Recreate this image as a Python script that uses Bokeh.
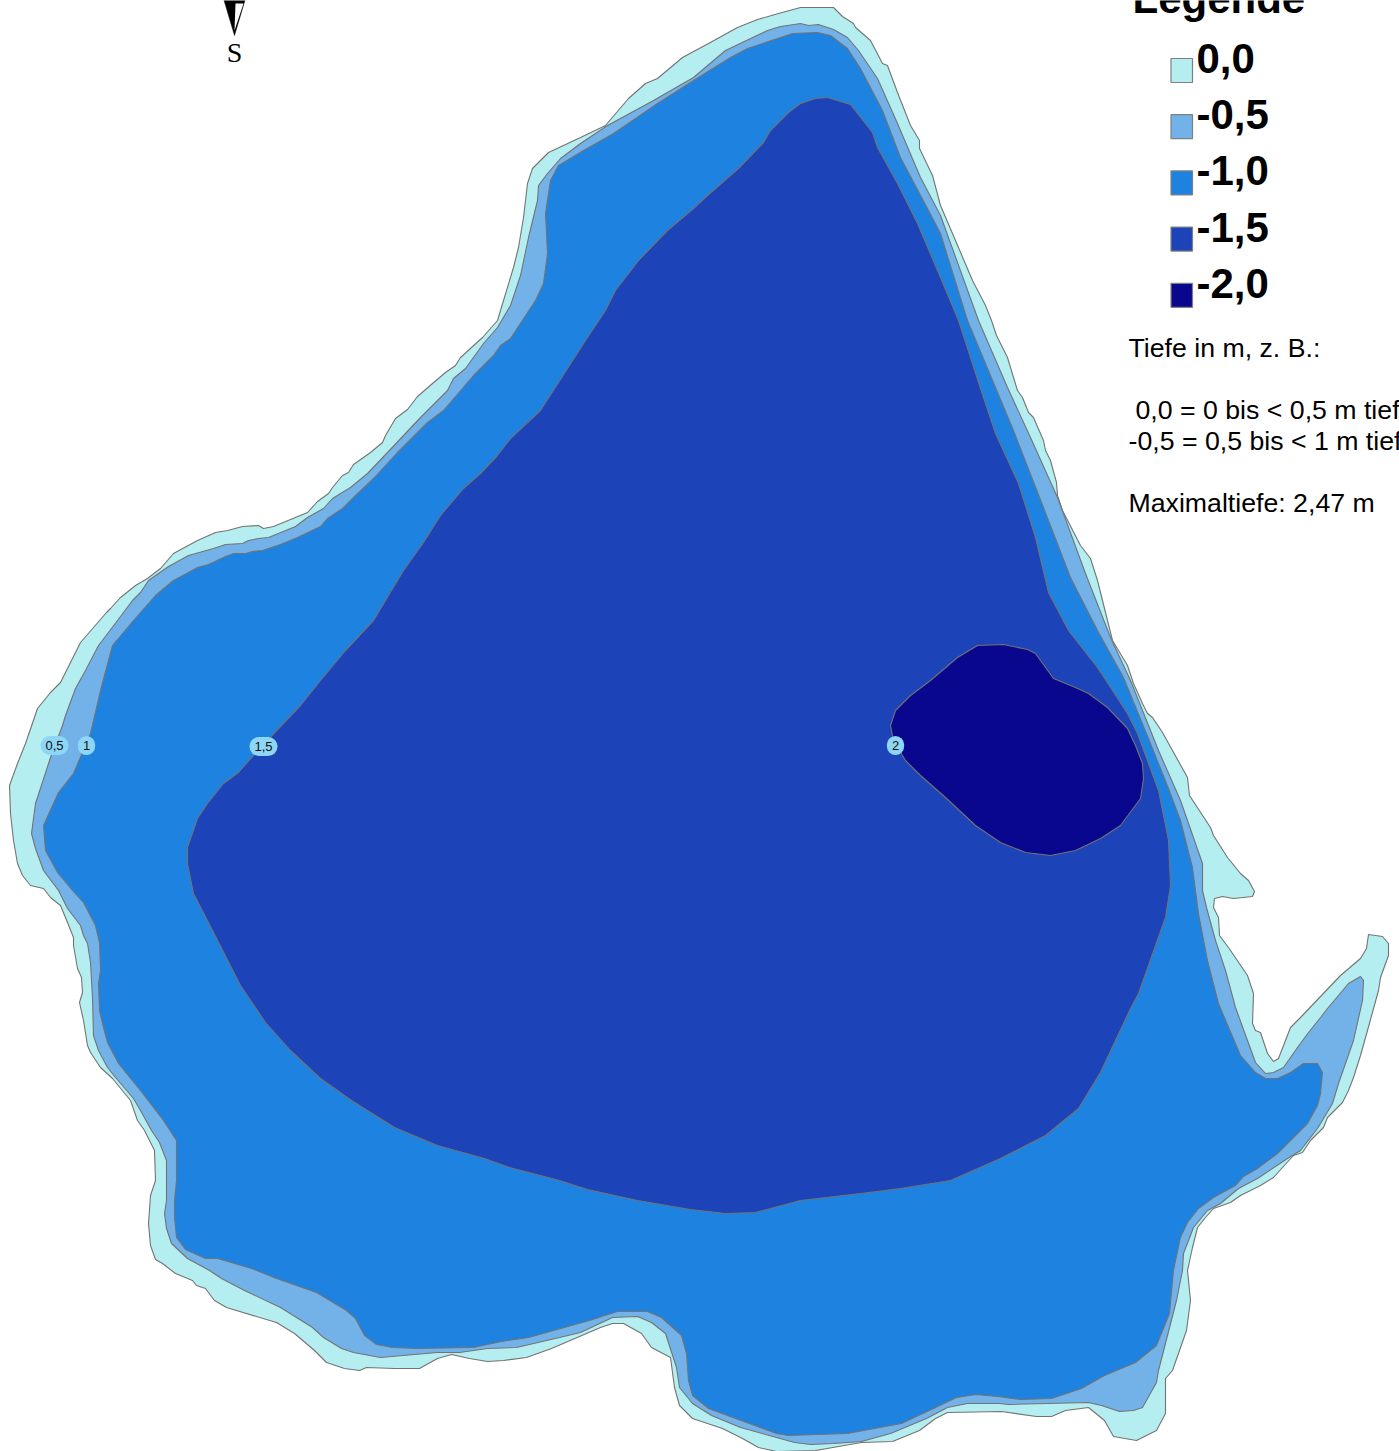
from bokeh.plotting import figure
from bokeh.models import Range1d, Label
from bokeh.core.properties import value
from bokeh.embed import file_html
from bokeh.resources import INLINE

depth_0_0 = [(800,7),(833,7),(842,16),(853,23),(855,27),(870,40),(882,63),(887,65),(897,92),(910,125),(919,140),(919,148),(932,175),(940,205),(955,240),(972,280),(985,305),(991,320),(996,335),(1007,357),(1017,390),(1022,397),(1028,412),(1033,417),(1043,440),(1045,450),(1050,460),(1056,482),(1057,495),(1062,510),(1080,545),(1090,558),(1097,580),(1110,632),(1112,640),(1127,665),(1133,683),(1142,703),(1147,713),(1152,717),(1162,732),(1172,750),(1187,777),(1189,795),(1210,827),(1213,835),(1227,857),(1240,873),(1248,880),(1254,891),(1252,896),(1233,898),(1222,896),(1214,898),(1213,907),(1218,917),(1219,935),(1228,947),(1247,975),(1253,993),(1252,1023),(1255,1030),(1260,1032),(1267,1053),(1273,1061),(1278,1058),(1290,1027),(1300,1017),(1340,975),(1360,958),(1366,948),(1368,934),(1382,936),(1388,943),(1388,955),(1380,977),(1378,990),(1367,1030),(1360,1055),(1353,1077),(1348,1090),(1342,1102),(1327,1117),(1323,1127),(1310,1140),(1302,1152),(1293,1155),(1282,1167),(1273,1177),(1260,1185),(1240,1195),(1230,1202),(1213,1208),(1205,1217),(1197,1227),(1192,1247),(1187,1270),(1190,1300),(1186,1330),(1172,1370),(1165,1378),(1165,1413),(1156,1430),(1136,1440),(1113,1436),(1104,1420),(1088,1407),(1065,1410),(1051,1416),(1036,1416),(1001,1411),(947,1412),(935,1418),(919,1430),(892,1441),(861,1442),(815,1450),(776,1451),(758,1447),(742,1438),(722,1428),(692,1418),(679,1405),(674,1387),(670,1357),(651,1347),(641,1333),(623,1323),(612,1323),(600,1327),(551,1348),(526,1357),(503,1360),(487,1361),(469,1358),(451,1354),(437,1358),(419,1368),(394,1368),(366,1367),(359,1370),(344,1368),(326,1362),(314,1350),(294,1333),(276,1322),(226,1307),(214,1300),(205,1288),(196,1285),(192,1280),(175,1273),(162,1263),(155,1259),(150,1245),(148,1223),(150,1195),(155,1180),(154,1150),(144,1130),(137,1120),(130,1100),(112,1078),(100,1067),(90,1052),(87,1045),(83,1020),(79,1002),(82,992),(81,977),(77,968),(73,945),(73,937),(67,922),(60,905),(50,897),(43,888),(30,885),(22,875),(17,863),(13,840),(10,813),(9,785),(17,763),(25,743),(37,708),(50,692),(60,682),(80,642),(106,612),(110,608),(120,597),(135,585),(147,578),(160,568),(173,553),(197,540),(215,532),(227,530),(242,526),(258,525),(263,528),(273,526),(290,519),(307,512),(317,501),(328,493),(332,487),(342,475),(348,472),(353,464),(370,452),(382,442),(385,435),(395,418),(407,409),(417,396),(432,383),(445,372),(455,365),(460,357),(482,337),(497,320),(500,310),(513,267),(518,247),(523,217),(525,200),(527,183),(532,168),(548,152),(580,137),(605,125),(628,98),(645,83),(657,78),(682,57),(708,43),(737,27),(757,19),(778,13)]

depth_0_5 = [(800,23),(808,25),(818,24),(833,29),(847,37),(858,50),(877,78),(897,123),(920,177),(940,215),(978,320),(1007,387),(1030,437),(1057,497),(1085,573),(1110,637),(1130,680),(1158,750),(1180,800),(1195,843),(1202,863),(1202,890),(1206,907),(1215,940),(1225,970),(1235,1007),(1247,1040),(1255,1062),(1265,1073),(1273,1072),(1283,1067),(1297,1047),(1308,1032),(1320,1017),(1327,1008),(1348,983),(1360,976),(1363,980),(1362,1000),(1353,1040),(1338,1083),(1332,1103),(1317,1128),(1300,1150),(1287,1158),(1257,1178),(1238,1188),(1220,1203),(1207,1210),(1193,1227),(1183,1253),(1182,1270),(1176,1300),(1158,1370),(1156,1382),(1142,1407),(1133,1410),(1119,1411),(1101,1405),(1088,1402),(1008,1404),(999,1403),(967,1403),(947,1407),(926,1418),(890,1433),(861,1441),(833,1443),(810,1444),(794,1442),(740,1427),(711,1415),(692,1403),(679,1387),(676,1367),(665,1333),(651,1322),(637,1316),(612,1317),(580,1332),(559,1337),(516,1347),(487,1348),(459,1352),(437,1352),(414,1354),(380,1357),(353,1352),(341,1348),(323,1337),(312,1327),(280,1307),(244,1290),(221,1278),(209,1270),(187,1258),(171,1243),(166,1228),(164,1213),(166,1200),(166,1160),(159,1142),(151,1130),(140,1110),(133,1098),(115,1077),(107,1067),(98,1050),(93,1035),(92,997),(90,962),(87,943),(83,935),(80,925),(67,908),(58,890),(43,870),(35,848),(31,833),(33,818),(35,803),(50,757),(62,725),(65,715),(75,688),(85,670),(98,645),(117,620),(132,600),(140,592),(148,580),(168,566),(188,555),(213,548),(225,544),(242,543),(248,540),(258,538),(268,537),(295,526),(307,517),(323,508),(332,498),(350,487),(367,473),(387,452),(420,417),(430,407),(447,390),(453,378),(465,368),(483,343),(497,327),(510,305),(520,275),(528,237),(537,200),(538,185),(547,173),(560,158),(580,143),(607,125),(653,100),(693,77),(725,50),(767,30),(780,26)]

depth_1_0 = [(792,33),(817,32),(830,35),(847,48),(860,68),(882,110),(900,157),(927,208),(940,233),(967,320),(990,375),(1013,430),(1043,507),(1070,577),(1097,630),(1123,677),(1150,743),(1168,788),(1180,820),(1192,867),(1198,913),(1207,960),(1218,1003),(1240,1055),(1255,1072),(1265,1078),(1277,1078),(1290,1072),(1303,1063),(1317,1063),(1322,1072),(1320,1093),(1317,1105),(1307,1123),(1290,1140),(1277,1153),(1257,1168),(1243,1176),(1235,1185),(1213,1197),(1198,1208),(1187,1222),(1180,1237),(1173,1270),(1169,1313),(1156,1345),(1135,1362),(1104,1375),(1081,1388),(1051,1398),(1020,1399),(997,1396),(976,1394),(956,1397),(933,1408),(901,1423),(847,1433),(788,1435),(776,1433),(708,1408),(692,1395),(688,1380),(686,1353),(681,1335),(661,1317),(647,1311),(617,1311),(589,1320),(528,1337),(501,1341),(473,1347),(416,1348),(392,1347),(376,1344),(364,1335),(355,1318),(346,1310),(316,1292),(276,1278),(251,1268),(217,1258),(205,1258),(185,1249),(176,1237),(174,1217),(174,1200),(176,1180),(176,1140),(163,1120),(140,1090),(118,1063),(107,1042),(103,1027),(99,1010),(98,983),(100,970),(99,942),(95,925),(83,902),(72,890),(57,872),(45,850),(43,825),(58,792),(73,773),(90,733),(100,690),(112,645),(133,620),(155,595),(173,580),(197,567),(208,564),(225,556),(233,553),(245,553),(252,551),(262,550),(280,544),(297,537),(320,526),(327,518),(342,508),(353,497),(373,478),(397,452),(427,422),(443,410),(473,375),(493,355),(500,345),(510,338),(535,300),(543,283),(547,253),(545,213),(548,193),(550,180),(558,165),(583,150),(613,133),(657,103),(693,80),(730,57),(747,48)]

depth_1_5 = [(827,97),(850,104),(872,132),(877,147),(897,183),(917,223),(940,277),(958,320),(980,388),(995,433),(1018,483),(1035,537),(1048,592),(1068,630),(1097,667),(1127,713),(1137,733),(1158,790),(1168,840),(1170,885),(1165,917),(1138,993),(1130,1008),(1100,1072),(1078,1108),(1045,1135),(1000,1158),(950,1180),(900,1188),(860,1193),(800,1200),(755,1212),(725,1213),(690,1209),(637,1200),(587,1189),(559,1180),(509,1167),(484,1158),(437,1145),(394,1127),(351,1100),(320,1078),(290,1050),(265,1022),(240,985),(212,930),(193,893),(187,863),(187,847),(197,818),(207,803),(223,783),(238,772),(260,747),(300,705),(320,680),(345,650),(373,620),(403,570),(423,542),(440,515),(463,488),(480,473),(497,455),(510,438),(540,410),(585,340),(605,310),(615,290),(638,260),(667,230),(693,208),(707,195),(738,168),(763,142),(770,130),(788,112),(800,103),(815,98)]

depth_2_0 = [(930,680),(957,657),(977,645),(1003,644),(1027,649),(1035,653),(1053,678),(1075,687),(1088,693),(1107,707),(1127,728),(1135,745),(1142,763),(1143,778),(1140,798),(1120,825),(1100,838),(1075,850),(1050,855),(1025,852),(1000,842),(975,825),(945,797),(920,775),(905,760),(893,740),(890,725),(895,710),(910,695)]

legend_labels = ["0,0", "-0,5", "-1,0", "-1,5", "-2,0"]
legend_colors = ["#b5eef0", "#73b2e8", "#1e82e0", "#1c43b8", "#0a078f"]
polygons = [depth_0_0, depth_0_5, depth_1_0, depth_1_5, depth_2_0]
contour_labels = ["0,5", "1", "1,5", "2"]
contour_x = [54, 86, 263, 895]
contour_y = [745, 745, 746, 745]
note_lines = ["Tiefe in m, z. B.:", "0,0 = 0 bis < 0,5 m tief", "-0,5 = 0,5 bis < 1 m tief", "Maximaltiefe: 2,47 m"]
note_x = [1128, 1135, 1128, 1128]
note_y = [358, 420, 451, 513]
BL = 0.38  # baseline correction in em seen in the rendered svg text

p = figure(width=1399, height=1451, output_backend="svg", toolbar_location=None,
           x_range=Range1d(0, 1399), y_range=Range1d(1451, 0),
           min_border=0)
p.axis.visible = False
p.grid.visible = False
p.outline_line_color = None
p.background_fill_color = "white"
p.border_fill_color = "white"

for poly, col in zip(polygons, legend_colors):
    p.patch([c[0] for c in poly], [c[1] for c in poly], fill_color=col,
            line_color="#737373", line_width=1.1)

# north arrow
p.patch([223, 245, 234], [-2, -2, 35], fill_color="black", line_color="black", line_width=0.5)
p.patch([235, 243, 234], [3, 3, 30], fill_color="white", line_color=None)
p.text([234], [63 - BL * 28], text=["S"], text_font=value("Liberation Serif"), text_font_size="28px",
       text_align="center", text_baseline="alphabetic", text_color="black")

# contour labels
for t, x, y in zip(contour_labels, contour_x, contour_y):
    p.add_layout(Label(x=x, y=y, text=t, text_font="Liberation Sans", text_font_size="13px",
                       text_align="center", text_baseline="middle", text_color="#111111",
                       background_fill_color="#8ed6f5", border_radius=10, padding=5))

# legend
p.text([1132], [14 - BL * 42], text=["Legende"], text_font=value("Liberation Sans"), text_font_size="42px",
       text_font_style="bold", text_baseline="alphabetic", text_color="black")
for i, (t, col) in enumerate(zip(legend_labels, legend_colors)):
    top = 58 + i * 56.2
    p.quad(left=[1170.5], right=[1192], top=[top], bottom=[top + 24], fill_color=col,
           line_color="#808080", line_width=1.2)
    p.text([1196], [top + 16 - BL * 42], text=[t], text_font=value("Liberation Sans"), text_font_size="42px",
           text_font_style="bold", text_baseline="alphabetic", text_color="black")

p.text(note_x, [y - BL * 26.7 for y in note_y], text=note_lines, text_font=value("Liberation Sans"),
       text_font_size="26.7px", text_baseline="alphabetic", text_color="black")

open("out.html", "w").write(file_html(p, INLINE))
